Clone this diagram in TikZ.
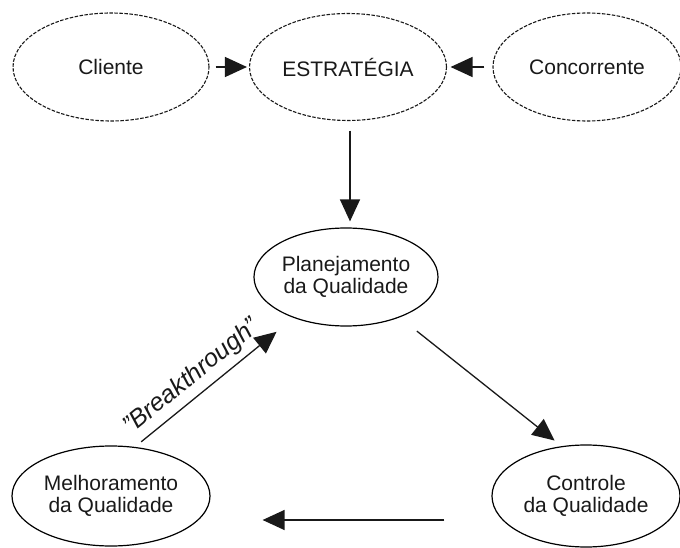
\documentclass[tikz,border=0pt]{standalone}
\usepackage{fontspec}
\setmainfont{Liberation Sans}
\usetikzlibrary{arrows.meta,shapes.geometric}
\begin{document}
\begin{tikzpicture}[x=1pt,y=1pt,
  every node/.style={font=\fontsize{21}{22.5}\selectfont, text=black!90, align=center},
  dashell/.style={ellipse, draw=black!90, line width=1.1pt, dash pattern=on 3.5pt off 1.5pt, inner sep=0pt},
  solidell/.style={ellipse, draw=black, line width=1.2pt, inner sep=0pt},
  arr/.style={draw=black!90, line width=1.3pt, -{Triangle[length=22pt,width=20pt]}},
  tagtext/.style={font=\fontsize{25}{26}\selectfont\itshape, inner sep=0pt}
]
\useasboundingbox (0,0) rectangle (680,547);

% influences on the strategy
\node[dashell, minimum width=196pt, minimum height=108pt] (cli)  at (111,480) {Cliente};
\node[dashell, minimum width=197pt, minimum height=107pt] (estr) at (348,480) {ESTRATÉGIA};
\node[dashell, minimum width=188pt, minimum height=108pt] (conc) at (587,480) {Concorrente};

% quality trilogy
\node[solidell, minimum width=184pt, minimum height=98pt]  (plan) at (346,270) {Planejamento\\da Qualidade};
\node[solidell, minimum width=188pt, minimum height=102pt] (ctrl) at (586,51)  {Controle\\da Qualidade};
\node[solidell, minimum width=198pt, minimum height=100pt] (melh) at (111,51)  {Melhoramento\\da Qualidade};

% connectors
\draw[arr, shorten <=6pt, shorten >=2pt] (cli.east) -- (estr.west);
\draw[arr, shorten <=8pt, shorten >=3.5pt] (conc.west) -- (estr.east);
\draw[arr, shorten <=9.5pt, shorten >=6pt] ([xshift=2pt]estr.south) -- ([xshift=4pt]plan.north);
\draw[arr, shorten <=22pt, shorten >=9pt] (plan.-37) -- (ctrl.116);
\draw[arr] ([xshift=-47pt,yshift=-24pt]ctrl.west) -- ([xshift=52pt,yshift=-24pt]melh.east);
\draw[arr, shorten <=8pt, shorten >=22pt] (melh.64) --
  node[tagtext, pos=0.43, sloped, above=6pt] {"Breakthrough"} (plan.218);
\end{tikzpicture}
\end{document}
